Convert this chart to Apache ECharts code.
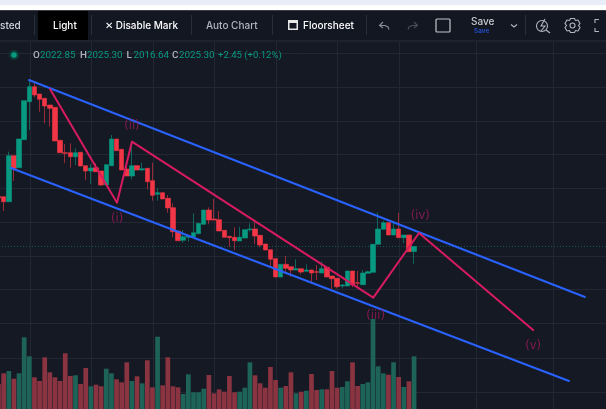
<!DOCTYPE html>
<html><head><meta charset="utf-8">
<style>html,body{margin:0;padding:0;background:#151924;overflow:hidden}#c{width:606px;height:409px}</style>
<script src="https://cdn.jsdelivr.net/npm/echarts@6/dist/echarts.min.js"></script>
</head><body><div id="c"></div>
<script>
// open, close, low, high
const candles = [
[2050.3,2049.6,2049.6,2050.3],[2050.2,2047.7,2043.05,2050.2],[2047.7,2070.7,2047.7,2072.7],[2070.7,2064.4,2058.05,2070.7],
[2064.7,2079.05,2064.7,2079.05],[2078.7,2098.2,2078.7,2098.2],[2097.7,2105.2,2083.55,2108.55],[2105.2,2101.05,2099.9,2106.9],
[2101.55,2098.9,2092.7,2101.55],[2099.4,2095.55,2086.9,2099.4],[2096.05,2094.4,2085.2,2096.05],[2094.9,2078.05,2078.05,2094.9],
[2078.4,2072.2,2072.2,2078.4],[2072.2,2071.9,2066.9,2076.55],[2072.2,2070.2,2064.7,2076.9],[2070.2,2072.2,2066.05,2074.4],
[2072.4,2065.55,2065.55,2072.4],[2065.7,2063.05,2058.55,2065.7],[2063.05,2064.55,2056.55,2066.55],[2064.7,2062.7,2062.7,2066.9],
[2063.05,2056.05,2055.55,2063.05],[2056.05,2066.2,2056.05,2066.2],[2065.7,2079.05,2065.7,2081.05],[2079.05,2073.2,2073.2,2079.05],
[2073.9,2063.55,2063.55,2073.9],[2064.05,2060.55,2060.55,2065.2],[2060.55,2065.7,2058.9,2075.2],[2065.7,2063.55,2063.55,2065.7],
[2063.55,2064.2,2063.2,2067.2],[2064.4,2057.7,2053.9,2064.4],[2058.2,2050.9,2048.2,2067.2],[2051.4,2052.2,2048.2,2054.4],
[2052.2,2049.05,2049.05,2052.2],[2049.4,2044.55,2042.2,2051.05],[2044.7,2032.7,2029.9,2046.9],[2033.05,2028.2,2028.2,2033.05],
[2028.4,2030.2,2027.2,2033.55],[2029.9,2030.55,2027.7,2031.05],[2030.2,2032.2,2030.2,2041.9],[2031.7,2036.9,2031.7,2036.9],
[2036.4,2043.55,2036.4,2043.55],[2043.55,2038.55,2036.4,2044.9],[2039.05,2038.55,2038.55,2049.05],[2038.7,2033.05,2033.05,2043.05],
[2033.4,2029.9,2029.9,2033.4],[2030.4,2029.7,2025.2,2030.4],[2029.9,2028.2,2023.55,2034.9],[2028.05,2029.9,2028.05,2035.2],
[2029.55,2033.7,2029.55,2033.7],[2033.7,2034.05,2032.7,2036.9],[2034.05,2030.55,2026.55,2037.4],[2030.9,2026.05,2024.9,2030.9],
[2026.55,2023.55,2023.55,2026.55],[2023.7,2018.9,2015.55,2023.7],[2019.2,2010.05,2010.05,2019.2],[2010.05,2016.4,2010.05,2016.4],
[2016.4,2014.4,2012.7,2020.55],[2015.2,2013.55,2010.2,2015.2],[2013.55,2014.2,2013.55,2018.9],[2014.2,2012.55,2011.55,2014.2],
[2012.9,2013.55,2012.9,2016.4],[2013.55,2012.05,2007.2,2013.9],[2012.7,2012.4,2008.55,2016.05],[2012.05,2014.2,2012.05,2017.7],
[2014.9,2010.05,2010.05,2014.9],[2010.55,2009.2,2003.9,2010.55],[2009.4,2005.2,2004.4,2009.4],[2005.55,2006.05,2004.4,2006.55],
[2005.55,2013.05,2005.55,2013.05],[2013.05,2006.05,2004.9,2013.05],[2007.2,2006.9,2004.4,2013.05],[2006.2,2012.05,2006.2,2013.55],
[2011.9,2012.7,2011.9,2013.2],[2012.4,2026.4,2012.4,2026.4],[2026.4,2034.05,2026.4,2042.4],[2033.9,2037.2,2033.9,2038.2],
[2037.2,2031.05,2031.05,2037.2],[2031.05,2034.05,2031.05,2037.2],[2034.05,2029.7,2029.7,2042.2],[2029.7,2031.05,2026.9,2031.05],
[2031.05,2022.7,2022.7,2031.05],[2022.85,2025.30,2016.64,2025.30]];
const volumes = [25,35.7,38,30.3,35.7,71.7,52.7,31.7,28,51.7,36.7,31.7,28,55.7,33,33.7,25,41,22.7,24.3,22.7,40.3,35.7,29.7,26.7,46.7,28,32.7,25.7,48.7,21.7,72.3,23.7,51.7,22.7,21.7,15,34.7,16.7,16.7,20.3,
34,15.7,19.7,17.3,33,16.7,17.3,21.3,46.7,33.7,25.7,21.3,42,29,21.3,23,36.7,15.7,17.3,18.3,35,19,19.7,19.7,38,21.3,22,27.7,46.7,23,25,26.7,90,42.7,35.7,34.3,46.7,32,22,27.7,52.7];
const channelUpper = [[5.94,2108.55],[114.3,2000.05]];
const channelLower = [[2.43,2064.55],[111.2,1958.05]];
const wave = [[10.03,2104.05],[23.09,2047.2],[26,2077.7],[73.05,1999.7],[81.96,2032.05],[104.2,1983.55]];
const waveLabels = [["(i)",23.1,2039.05],["(ii)",26,2085.55],["(iii)",73.5,1990.55],["(iv)",82.2,2040.55],["(v)",104.2,1975.55]];
const gridPrices = [2122.05,2105.05,2088.05,2071.55,2054.55,2037.55,2020.55,2004.05,1987.05,1969.55,1952.55];
const gridSlots = [6.27,18.16,30.1,42,54.1,66,78.06,93.1,108.1];
const lastPrice = 2025.30;
const slotCount = 119;
const ohlcText = [["O","2022.85",33],["H","2025.30",80],["L","2016.64",126.5],["C","2025.30",172]];

const GREEN='#089981', RED='#f23645', TXT='#d1d4dc', F='Inter, "Noto Sans", sans-serif';
const cats = Array.from({length:slotCount},(_,i)=>String(i));
const chart = echarts.init(document.getElementById('c'),null,{renderer:'canvas'});
const t=(x,y,text,o={})=>({type:'text',z:101,silent:true,x,y,style:Object.assign({text,fill:TXT,font:'500 10px '+F,textVerticalAlign:'middle'},o)});
const sep=x=>({type:'rect',z:101,silent:true,shape:{x,y:15,width:1,height:20},style:{fill:'#2a2e39'}});
const icon=(shapeType,shape,o={})=>({type:shapeType,z:101,silent:true,shape,style:Object.assign({fill:'none',stroke:'#b2b5be',lineWidth:1.1},o)});
const graphics=[
 {type:'rect',z:100,silent:true,shape:{x:0,y:0,width:606,height:5},style:{fill:'#e9edf7'}},
 {type:'rect',z:100,silent:true,shape:{x:0,y:5,width:606,height:5},style:{fill:'#ffffff'}},
 {type:'rect',z:100,silent:true,shape:{x:0,y:10,width:606,height:1},style:{fill:'#3a3d45'}},
 {type:'rect',z:100,silent:true,shape:{x:0,y:11,width:606,height:29},style:{fill:'#131722'}},
 {type:'rect',z:100,silent:true,shape:{x:0,y:40,width:606,height:2},style:{fill:'#1e222d'}},
 {type:'rect',z:101,silent:true,shape:{x:38,y:11,width:50,height:29},style:{fill:'#000000'}},
 sep(34),sep(91),sep(191),sep(272),sep(366),sep(525),
 t(0,25.5,'sted'),t(53,25.5,'Light',{fill:'#ffffff'}),
 t(105,25.5,'✕ Disable Mark',{fill:'#ffffff'}),
 t(206,25.5,'Auto Chart',{fill:'#b2b5be'}),
 icon('rect',{x:288,y:20,width:10,height:10},{fill:'#e8e8e8',stroke:'none'}),
 icon('rect',{x:289.5,y:23,width:7,height:5.5},{fill:'#131722',stroke:'none'}),
 t(303,25.5,'Floorsheet',{fill:'#ffffff'}),
 icon('polyline',{points:[[383,22],[379.5,25.5],[383,28]]},{stroke:'#8a8e99'}),
 icon('polyline',{points:[[380,25.5],[385,25.5],[388,27],[389,29.5]]},{stroke:'#8a8e99'}),
 icon('polyline',{points:[[414,22],[417.5,25.5],[414,28]]},{stroke:'#4a4e59'}),
 icon('polyline',{points:[[417,25.5],[412,25.5],[409,27],[408,29.5]]},{stroke:'#4a4e59'}),
 {type:'rect',z:101,silent:true,shape:{x:436,y:19,width:14,height:13,r:1},style:{fill:'none',stroke:'#c4c6cc',lineWidth:1.2}},
 t(471,22,'Save',{fill:'#c8cad0'}),
 t(474,31.5,'Save',{fill:'#2556e0',font:'500 6.5px '+F}),
 icon('polyline',{points:[[511,24.5],[514,27],[517,24.5]]}),
 icon('circle',{cx:542,cy:26,r:5.5}),
 icon('polyline',{points:[[546,30],[550,33]]}),
 icon('polyline',{points:[[545,19],[541,26],[545,26],[541,31]]},{stroke:'#b2b5be'}),
 icon('circle',{cx:572.5,cy:25.5,r:2.5}),
 icon('polygon',{points:[[570.5,18.5],[574.5,18.5],[575.5,20.5],[578,20],[580,23.5],[578.5,25.5],[580,27.5],[578,31],[575.5,30.5],[574.5,32.5],[570.5,32.5],[569.5,30.5],[567,31],[565,27.5],[566.5,25.5],[565,23.5],[567,20],[569.5,20.5]]}),
 icon('polyline',{points:[[595,23],[595,19.5],[599,19.5]]}),
 icon('polyline',{points:[[595,28],[595,31.5],[599,31.5]]}),
 {type:'circle',z:101,silent:true,shape:{cx:14,cy:55,r:5},style:{fill:'#0d3b36'}},
 {type:'circle',z:102,silent:true,shape:{cx:14,cy:55,r:2.8},style:{fill:GREEN}},
 t(218,55.5,'+2.45 (+0.12%)',{fill:GREEN,font:'400 9.5px Roboto, sans-serif'})
];
ohlcText.forEach(([k,v,x])=>{
 graphics.push(t(x,55.5,k,{fill:'#b2b5be',font:'500 9.8px Roboto, sans-serif'}));
 graphics.push(t(x+7,55.5,v,{fill:GREEN,font:'400 9.8px Roboto, sans-serif'}));
});
const lineSeries=(name,data,color)=>({name,type:'line',xAxisIndex:1,yAxisIndex:0,data,symbol:'none',z:5,silent:true,clip:false,
  lineStyle:{color,width:2,cap:'round',join:'round'}});
chart.setOption({
 animation:false,backgroundColor:'#151924',
 graphic:graphics,
 grid:[{left:-4.025,top:0,width:610.47,height:409,outerBoundsMode:'none'},{left:-4.025,top:309,width:610.47,height:100,outerBoundsMode:'none'}],
 xAxis:[
  {type:'category',gridIndex:0,data:cats,show:false,boundaryGap:true},
  {type:'value',gridIndex:0,min:-0.5,max:slotCount-0.5,show:false},
  {type:'category',gridIndex:1,data:cats,show:false,boundaryGap:true}
 ],
 yAxis:[
  {type:'value',gridIndex:0,min:1944.05,max:2148.55,show:false,scale:true},
  {type:'value',gridIndex:1,min:0,max:100,show:false}
 ],
 series:[
  {name:'grid',type:'line',xAxisIndex:1,yAxisIndex:0,data:[],z:0,silent:true,
   markLine:{z:0,silent:true,symbol:['none','none'],animation:false,label:{show:false},
    lineStyle:{color:'#232733',width:1,type:'solid'},
    data:gridPrices.map(p=>({yAxis:p})).concat(gridSlots.map(s=>({xAxis:s})))}},
  {name:'last',type:'line',xAxisIndex:1,yAxisIndex:0,data:[],z:1,silent:true,
   markLine:{z:1,silent:true,symbol:['none','none'],animation:false,label:{show:false},
    lineStyle:{color:'#0f5d53',width:1,type:[1,2]},data:[{yAxis:lastPrice}]}},
  {name:'Volume',type:'bar',xAxisIndex:2,yAxisIndex:1,data:volumes,barWidth:4.7,z:2,silent:true,
   itemStyle:{color:p=>candles[p.dataIndex][1]>=candles[p.dataIndex][0]?'#1d6358':'#8a3341',
     borderWidth:0}},
  {name:'Price',type:'candlestick',xAxisIndex:0,yAxisIndex:0,data:candles,barWidth:5,z:3,silent:true,
   itemStyle:{color:GREEN,color0:RED,borderColor:GREEN,borderColor0:RED,borderWidth:0.6}},
  lineSeries('Channel upper',channelUpper,'#2962ff'),
  lineSeries('Channel lower',channelLower,'#2962ff'),
  lineSeries('Wave',wave,'#d81b60'),
  {name:'Wave labels',type:'scatter',xAxisIndex:1,yAxisIndex:0,symbolSize:0,z:6,silent:true,
   data:waveLabels.map(l=>({value:[l[1],l[2]],name:l[0]})),
   label:{show:true,position:'inside',formatter:p=>p.name,color:'#a01a5e',fontFamily:'"DejaVu Sans", sans-serif',fontSize:11.5}}
 ]
});
</script></body></html>
